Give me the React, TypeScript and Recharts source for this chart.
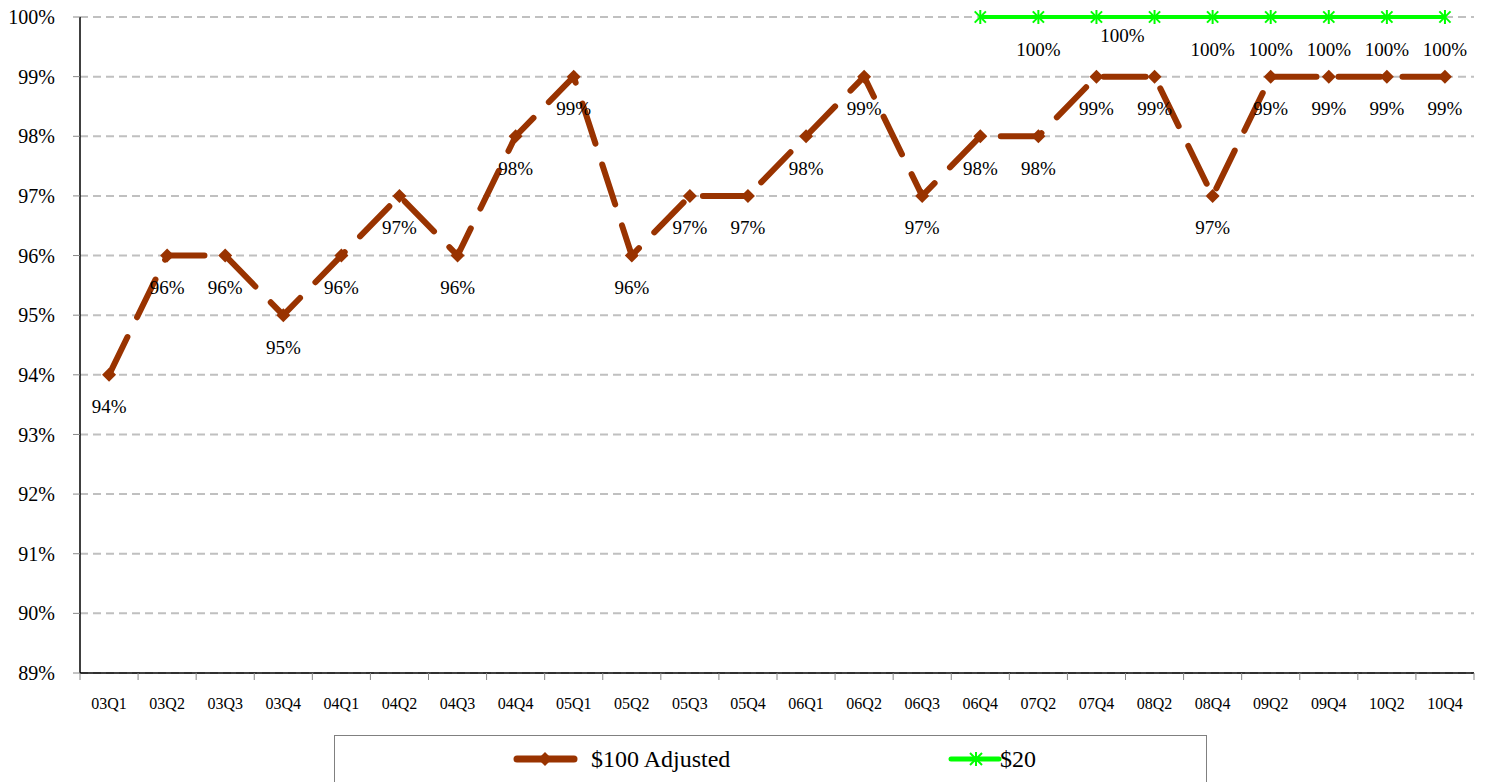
import React from "react";
import { LineChart, Line, XAxis, YAxis, CartesianGrid, LabelList } from "recharts";

const categories = ["03Q1","03Q2","03Q3","03Q4","04Q1","04Q2","04Q3","04Q4","05Q1","05Q2","05Q3","05Q4","06Q1","06Q2","06Q3","06Q4","07Q2","07Q4","08Q2","08Q4","09Q2","09Q4","10Q2","10Q4"];
const adjusted100 = [94,96,96,95,96,97,96,98,99,96,97,97,98,99,97,98,98,99,99,97,99,99,99,99];
const twenty = [null,null,null,null,null,null,null,null,null,null,null,null,null,null,null,100,100,100,100,100,100,100,100,100];
const yTicks = [89,90,91,92,93,94,95,96,97,98,99,100];

const data = categories.map((q, i) => ({ q, adj: adjusted100[i], t20: twenty[i] }));

const W = 1485;
const H = 782;
const M = { top: 17, right: 11, left: 0, bottom: 69 };
const YW = 80;
const XH = 40;
const PLOT_W = W - M.left - M.right - YW;
const AXIS_Y = H - M.bottom - XH;
const BW = PLOT_W / categories.length;
const FONT = "'Liberation Serif', serif";
const BROWN = "#993300";
const GREEN = "#00ff00";

const XTick = (props: any) => {
  const { x, payload, index } = props;
  const left = x - BW / 2;
  return (
    <g>
      <line x1={left} x2={left} y1={AXIS_Y} y2={AXIS_Y + 7} stroke="#888" strokeWidth={1} />
      {index === categories.length - 1 && (
        <line x1={x + BW / 2} x2={x + BW / 2} y1={AXIS_Y} y2={AXIS_Y + 7} stroke="#888" strokeWidth={1} />
      )}
      <text x={x} y={AXIS_Y + 30} textAnchor="middle" dominantBaseline="central" fontFamily={FONT} fontSize={16} fill="#000">
        {payload.value}
      </text>
    </g>
  );
};

const Diamond = (props: any) => {
  const { cx, cy } = props;
  if (cx == null || cy == null) return <g />;
  const r = 7;
  return <path d={`M${cx},${cy - r}L${cx + r},${cy}L${cx},${cy + r}L${cx - r},${cy}Z`} fill={BROWN} />;
};

const Asterisk = (props: any) => {
  const { cx, cy, value } = props;
  if (cx == null || cy == null || value == null) return <g />;
  const r = 7;
  const d = r * 0.8;
  return (
    <g stroke={GREEN} strokeWidth={2}>
      <line x1={cx} y1={cy - r} x2={cx} y2={cy + r} />
      <line x1={cx - d} y1={cy - d} x2={cx + d} y2={cy + d} />
      <line x1={cx - d} y1={cy + d} x2={cx + d} y2={cy - d} />
    </g>
  );
};

const BrownLabel = (props: any) => {
  const { x, y, value } = props;
  if (value == null) return null;
  return (
    <text x={x} y={y + 32} textAnchor="middle" dominantBaseline="central" fontFamily={FONT} fontSize={19} fill="#000">
      {value}%
    </text>
  );
};

const GreenLabel = (props: any) => {
  const { x, y, value, index } = props;
  if (value == null) return null;
  const cat = categories[index];
  if (cat === "06Q4" || cat === "08Q2") return null;
  let dx = 0;
  let dy = 32;
  if (cat === "07Q4") { dx = 26; dy = 18; }
  return (
    <text x={x + dx} y={y + dy} textAnchor="middle" dominantBaseline="central" fontFamily={FONT} fontSize={19} fill="#000">
      {value}%
    </text>
  );
};

const LegendBox = () => (
  <div style={{ position: "absolute", left: 334, top: 735, width: 873, height: 60, border: "1px solid #808080", boxSizing: "border-box", background: "#fff" }}>
    <svg width={873} height={60} style={{ position: "absolute", left: 0, top: 0 }}>
      <line x1={182} x2={239} y1={23} y2={23} stroke={BROWN} strokeWidth={7} strokeLinecap="round" />
      <path d={`M210,16L217,23L210,30L203,23Z`} fill={BROWN} />
      <text x={256} y={23} dominantBaseline="central" fontFamily={FONT} fontSize={24} fill="#000">$100 Adjusted</text>
      <line x1={616} x2={664} y1={23} y2={23} stroke={GREEN} strokeWidth={5} strokeLinecap="round" />
      <g stroke={GREEN} strokeWidth={2}>
        <line x1={641} y1={16} x2={641} y2={30} />
        <line x1={635} y1={17} x2={647} y2={29} />
        <line x1={635} y1={29} x2={647} y2={17} />
      </g>
      <text x={665} y={23} dominantBaseline="central" fontFamily={FONT} fontSize={24} fill="#000">$20</text>
    </svg>
  </div>
);

export default function App() {
  return (
    <div style={{ position: "relative", width: W, height: H, marginTop: -8, marginLeft: -8, background: "#fff", overflow: "hidden" }}>
      <LineChart width={W} height={H} data={data} margin={M}>
        <CartesianGrid horizontal vertical={false} stroke="#c0c0c0" strokeWidth={2} strokeDasharray="8 5" />
        <XAxis
          dataKey="q"
          height={XH}
          axisLine={{ stroke: "#000", strokeWidth: 1.5 }}
          tickLine={false}
          tick={<XTick />}
          interval={0}
          padding={{ left: BW / 2, right: BW / 2 }}
        />
        <YAxis
          width={YW}
          domain={[89, 100]}
          ticks={yTicks}
          interval={0}
          tickFormatter={(v: number) => `${v}%`}
          axisLine={{ stroke: "#000", strokeWidth: 1.5 }}
          tickLine={{ stroke: "#888" }}
          tickSize={7}
          tickMargin={18}
          tick={{ fontFamily: FONT, fontSize: 20, fill: "#000" }}
        />
        <Line
          dataKey="adj"
          name="$100 Adjusted"
          stroke={BROWN}
          strokeWidth={6}
          strokeDasharray="42 22"
          strokeLinecap="round"
          dot={<Diamond />}
          activeDot={false}
          isAnimationActive={false}
        >
          <LabelList dataKey="adj" content={<BrownLabel />} />
        </Line>
        <Line
          dataKey="t20"
          name="$20"
          stroke={GREEN}
          strokeWidth={4}
          dot={<Asterisk />}
          activeDot={false}
          connectNulls={false}
          isAnimationActive={false}
        >
          <LabelList dataKey="t20" content={<GreenLabel />} />
        </Line>
      </LineChart>
      <LegendBox />
    </div>
  );
}
